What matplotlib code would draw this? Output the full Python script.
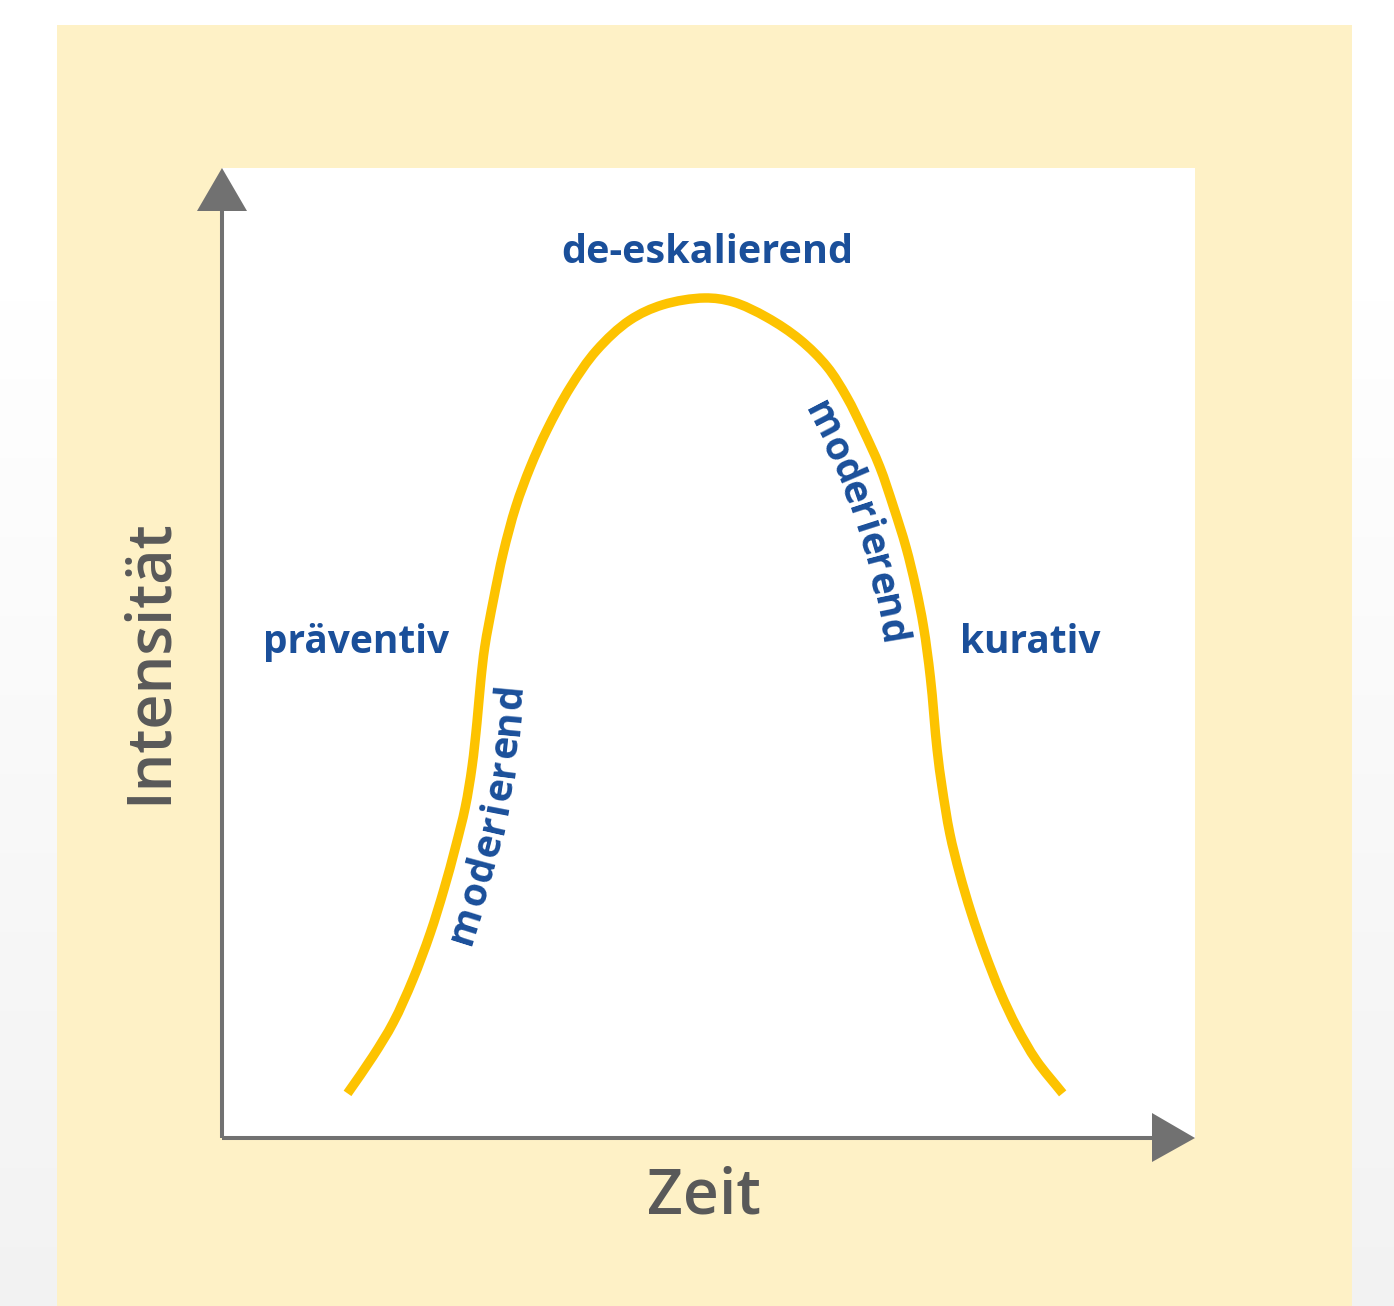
import numpy as np
import matplotlib
matplotlib.use("Agg")
import matplotlib.pyplot as plt
from matplotlib.patches import Rectangle, Polygon, PathPatch
from matplotlib.path import Path
from matplotlib.transforms import IdentityTransform

# Curve: time (0-100) vs intensity (0-100)
zeit = [12.9, 15.5, 17.6, 19.6, 21.4, 22.8, 24.0, 25.0, 25.7, 26.2, 26.6, 27.0,
        27.9, 28.9, 30.2, 31.7, 33.4, 35.8, 38.5, 41.9, 45.3, 49.6,
        52.5, 56.0, 59.4, 62.2, 64.2, 65.9, 67.6, 69.0, 70.3, 71.3, 72.1,
        72.8, 73.5, 74.0, 74.8, 75.8, 77.0, 78.4, 80.0, 81.7, 83.7, 86.4]
intensitaet = [4.6, 8.4, 11.9, 16.3, 21.1, 25.6, 30.0, 34.1, 38.3, 42.8, 47.2, 50.6,
               55.5, 60.3, 65.1, 69.2, 73.0, 77.4, 81.2, 84.3, 85.9, 86.6,
               86.2, 84.6, 82.3, 79.5, 76.4, 73.0, 69.2, 65.1, 60.9, 56.8, 52.7,
               47.5, 40.0, 36.2, 31.4, 27.3, 23.2, 19.1, 15.0, 11.4, 8.0, 4.6]

phase_labels = ["präventiv", "de-eskalierend", "kurativ"]
curve_label = "moderierend"

W, H = 1394, 1306
BLUE = "#1a4f9a"
GRAY = "#595959"
ARROW = "#717171"
YELLOW = "#fdc300"
CREAM = "#fef1c6"
FONT = "Open Sans"

fig = plt.figure(figsize=(W / 100, H / 100), dpi=100)

# background, panel, white plot area and arrows in pixel coordinates
bg = fig.add_axes([0, 0, 1, 1])
bg.set_xlim(0, W)
bg.set_ylim(H, 0)
bg.axis("off")
rows = np.arange(H)
shade = np.where(rows < 300, 1.0, 1.0 - 0.05 * (rows - 300) / (H - 300))
bg.imshow(np.repeat(shade[:, None, None], 3, axis=2), extent=(0, W, H, 0),
          aspect="auto", zorder=0)
bg.add_patch(Rectangle((57, 25), 1295, H - 25, color=CREAM, lw=0, zorder=1))
bg.add_patch(Rectangle((222, 168), 973, 970, color="white", lw=0, zorder=2))
bg.plot([222, 222], [1138, 205], color=ARROW, lw=2.9, zorder=3, solid_capstyle="butt")
bg.plot([222, 1157], [1138, 1138], color=ARROW, lw=2.9, zorder=3, solid_capstyle="butt")
bg.add_patch(Polygon([(197, 211), (247, 211), (222, 168)], color=ARROW, lw=0, zorder=3))
bg.add_patch(Polygon([(1152, 1113), (1152, 1162), (1195, 1138)], color=ARROW, lw=0, zorder=3))

bg.text(166, 661, "Intensität", rotation=90, rotation_mode="anchor",
        ha="center", va="baseline", color=GRAY, fontsize=44,
        fontweight="semibold", family=FONT, zorder=4)
bg.text(704, 1213, "Zeit", ha="center", va="baseline", color=GRAY,
        fontsize=45, fontweight="semibold", family=FONT, zorder=4)

# plot area on top of the white rectangle
ax = fig.add_axes([222 / W, (H - 1138) / H, 973 / W, 970 / H])
ax.patch.set_alpha(0)
ax.set_xlim(0, 100)
ax.set_ylim(0, 100)
ax.axis("off")

# smooth curve through the read points (centripetal Catmull-Rom as cubic Bezier)
P = np.column_stack([zeit, intensitaet])
ext = np.vstack([2 * P[0] - P[1], P, 2 * P[-1] - P[-2]])
verts = [P[0]]
codes = [Path.MOVETO]
for i in range(1, len(ext) - 2):
    p0, p1, p2, p3 = ext[i - 1], ext[i], ext[i + 1], ext[i + 2]
    d0 = np.linalg.norm(p1 - p0) ** 0.5
    d1 = np.linalg.norm(p2 - p1) ** 0.5
    d2 = np.linalg.norm(p3 - p2) ** 0.5
    m1 = ((p1 - p0) / d0 - (p2 - p0) / (d0 + d1) + (p2 - p1) / d1) * d1
    m2 = ((p2 - p1) / d1 - (p3 - p1) / (d1 + d2) + (p3 - p2) / d2) * d1
    verts += [p1 + m1 / 3, p2 - m2 / 3, p2]
    codes += [Path.CURVE4] * 3
curve = Path(verts, codes)
ax.add_patch(PathPatch(curve, fc="none", ec=YELLOW, lw=6.8,
                       joinstyle="round", capstyle="butt", zorder=3))

ax.text(4.2, 50.0, phase_labels[0], ha="left", va="baseline", color=BLUE,
        fontsize=28, fontweight="bold", family=FONT)
ax.text(49.9, 90.2, phase_labels[1], ha="center", va="baseline", color=BLUE,
        fontsize=28.5, fontweight="bold", family=FONT)
ax.text(75.85, 50.0, phase_labels[2], ha="left", va="baseline", color=BLUE,
        fontsize=28, fontweight="bold", family=FONT)


def text_on_curve(s, t_start, offset, size, spacing=0.0):
    """Place characters one by one along the curve, baseline offset to the right."""
    renderer = fig.canvas.get_renderer()
    prop = matplotlib.font_manager.FontProperties(family=FONT, weight="bold", size=size)
    pts = curve.to_polygons(ax.transData, closed_only=False)[0]
    seg = np.hypot(*np.diff(pts, axis=0).T)
    arc = np.concatenate([[0], np.cumsum(seg)])
    start = ax.transData.transform((t_start, 0))[0]
    side = pts[:, 0] < start if t_start < 50 else pts[:, 0] > start
    k = np.argmax(~side) if t_start < 50 else np.argmax(side)
    s0 = arc[k]
    widths = [renderer.get_text_width_height_descent(s[:i], prop, ismath=False)[0]
              if i else 0.0 for i in range(len(s) + 1)]
    for i, ch in enumerate(s):
        a = s0 + (widths[i] + widths[i + 1]) / 2 + i * spacing
        a1, a2 = a - 12, a + 12
        p1 = np.array([np.interp(a1, arc, pts[:, 0]), np.interp(a1, arc, pts[:, 1])])
        p2 = np.array([np.interp(a2, arc, pts[:, 0]), np.interp(a2, arc, pts[:, 1])])
        d = (p2 - p1) / np.linalg.norm(p2 - p1)
        p = np.array([np.interp(a, arc, pts[:, 0]), np.interp(a, arc, pts[:, 1])])
        q = p + offset * np.array([d[1], -d[0]])
        ang = np.degrees(np.arctan2(d[1], d[0]))
        fig.text(q[0], q[1], ch, transform=IdentityTransform(), rotation=ang,
                 rotation_mode="anchor", ha="center", va="baseline",
                 color=BLUE, fontproperties=prop, zorder=5)


text_on_curve(curve_label, 21.3, 42, 28, spacing=0.6)
text_on_curve(curve_label, 63.3, 44, 28, spacing=1.2)

fig.savefig("out.png", dpi=100)
